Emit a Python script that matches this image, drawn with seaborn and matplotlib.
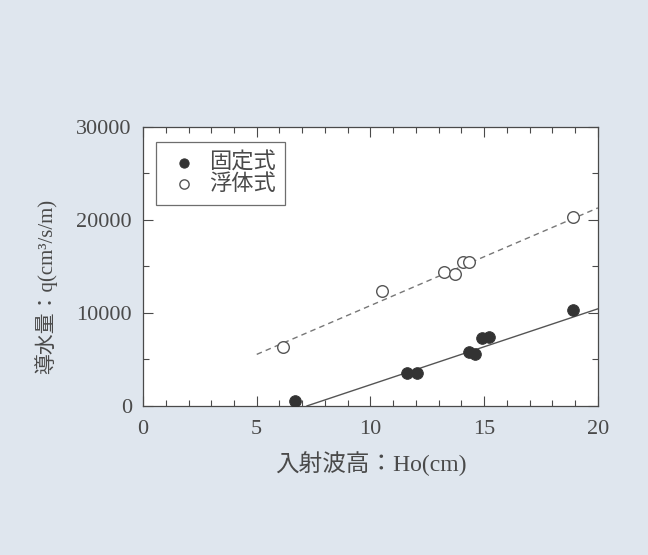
import numpy as np
import pandas as pd
import matplotlib.pyplot as plt
import seaborn as sns

# datos
ho_fijo = [6.7, 11.6, 12.05, 14.35, 14.6, 14.9, 15.2, 18.9]
q_fijo = [500, 3500, 3600, 5800, 5600, 7300, 7400, 10300]
ho_flot = [6.15, 10.5, 13.25, 13.7, 14.05, 14.35, 18.9]
q_flot = [6300, 12400, 14400, 14200, 15500, 15500, 20300]

# rectas de ajuste (extremos)
recta_fijo_x = [7.2, 20]
recta_fijo_y = [0, 10450]
recta_flot_x = [5, 20]
recta_flot_y = [5550, 21300]

etiquetas = ["固定式", "浮体式"]

df = pd.DataFrame({
    "Ho": ho_fijo + ho_flot,
    "q": q_fijo + q_flot,
    "tipo": [etiquetas[0]] * len(ho_fijo) + [etiquetas[1]] * len(ho_flot),
})

sns.set_style("ticks")
fuentes = ["Liberation Serif", "Noto Sans CJK JP"]
plt.rcParams["font.family"] = fuentes
gris = "#4a4a4a"

fig = plt.figure(figsize=(6.48, 5.55), dpi=100, facecolor="#dfe6ee")
ax = fig.add_axes([0.2207, 0.2685, 0.702, 0.5027])
ax.set_facecolor("white")

sns.lineplot(x=recta_flot_x, y=recta_flot_y, ax=ax, color="#777777",
             linestyle=(0, (4, 3)), linewidth=1.0)
sns.lineplot(x=recta_fijo_x, y=recta_fijo_y, ax=ax, color="#555555",
             linewidth=1.0)

sns.scatterplot(data=df[df.tipo == etiquetas[0]], x="Ho", y="q", ax=ax,
                color="#333333", edgecolor="#333333", s=70, label=etiquetas[0],
                zorder=3)
sns.scatterplot(data=df[df.tipo == etiquetas[1]], x="Ho", y="q", ax=ax,
                facecolor="white", edgecolor="#555555", linewidth=1.0, s=70,
                label=etiquetas[1], zorder=3)

ax.set_xlim(0, 20)
ax.set_ylim(0, 30000)
ax.set_xticks([0, 5, 10, 15, 20])
ax.set_xticks(np.arange(0, 21, 1), minor=True)
ax.set_yticks([0, 10000, 20000, 30000])
ax.set_yticks([5000, 15000, 25000], minor=True)
ax.tick_params(which="both", direction="in", top=True, right=True,
               colors=gris, labelsize=16, width=0.8)
ax.tick_params(which="major", length=7, pad=8)
ax.tick_params(axis="x", which="major", pad=10)
ax.tick_params(which="minor", length=4)
for s in ax.spines.values():
    s.set_color(gris)
    s.set_linewidth(0.9)

ax.set_xlabel("入射波高：Ho(cm)", fontsize=17, color=gris, labelpad=9,
              family=fuentes)
ax.set_ylabel("導水量：q(cm³/s/m)", fontsize=15, color=gris,
              family=fuentes)
ax.yaxis.set_label_coords(-0.19, 0.43)

leg = ax.legend(loc="upper left", bbox_to_anchor=(0.005, 0.985), fontsize=16,
                frameon=True, fancybox=False, edgecolor=gris,
                handletextpad=0.3, handlelength=1.6, borderpad=0.45,
                labelspacing=0.05, markerscale=0.8)
leg.get_frame().set_linewidth(0.9)
for t in leg.get_texts():
    t.set_color(gris)

fig.savefig("out.png", dpi=100, facecolor=fig.get_facecolor())
